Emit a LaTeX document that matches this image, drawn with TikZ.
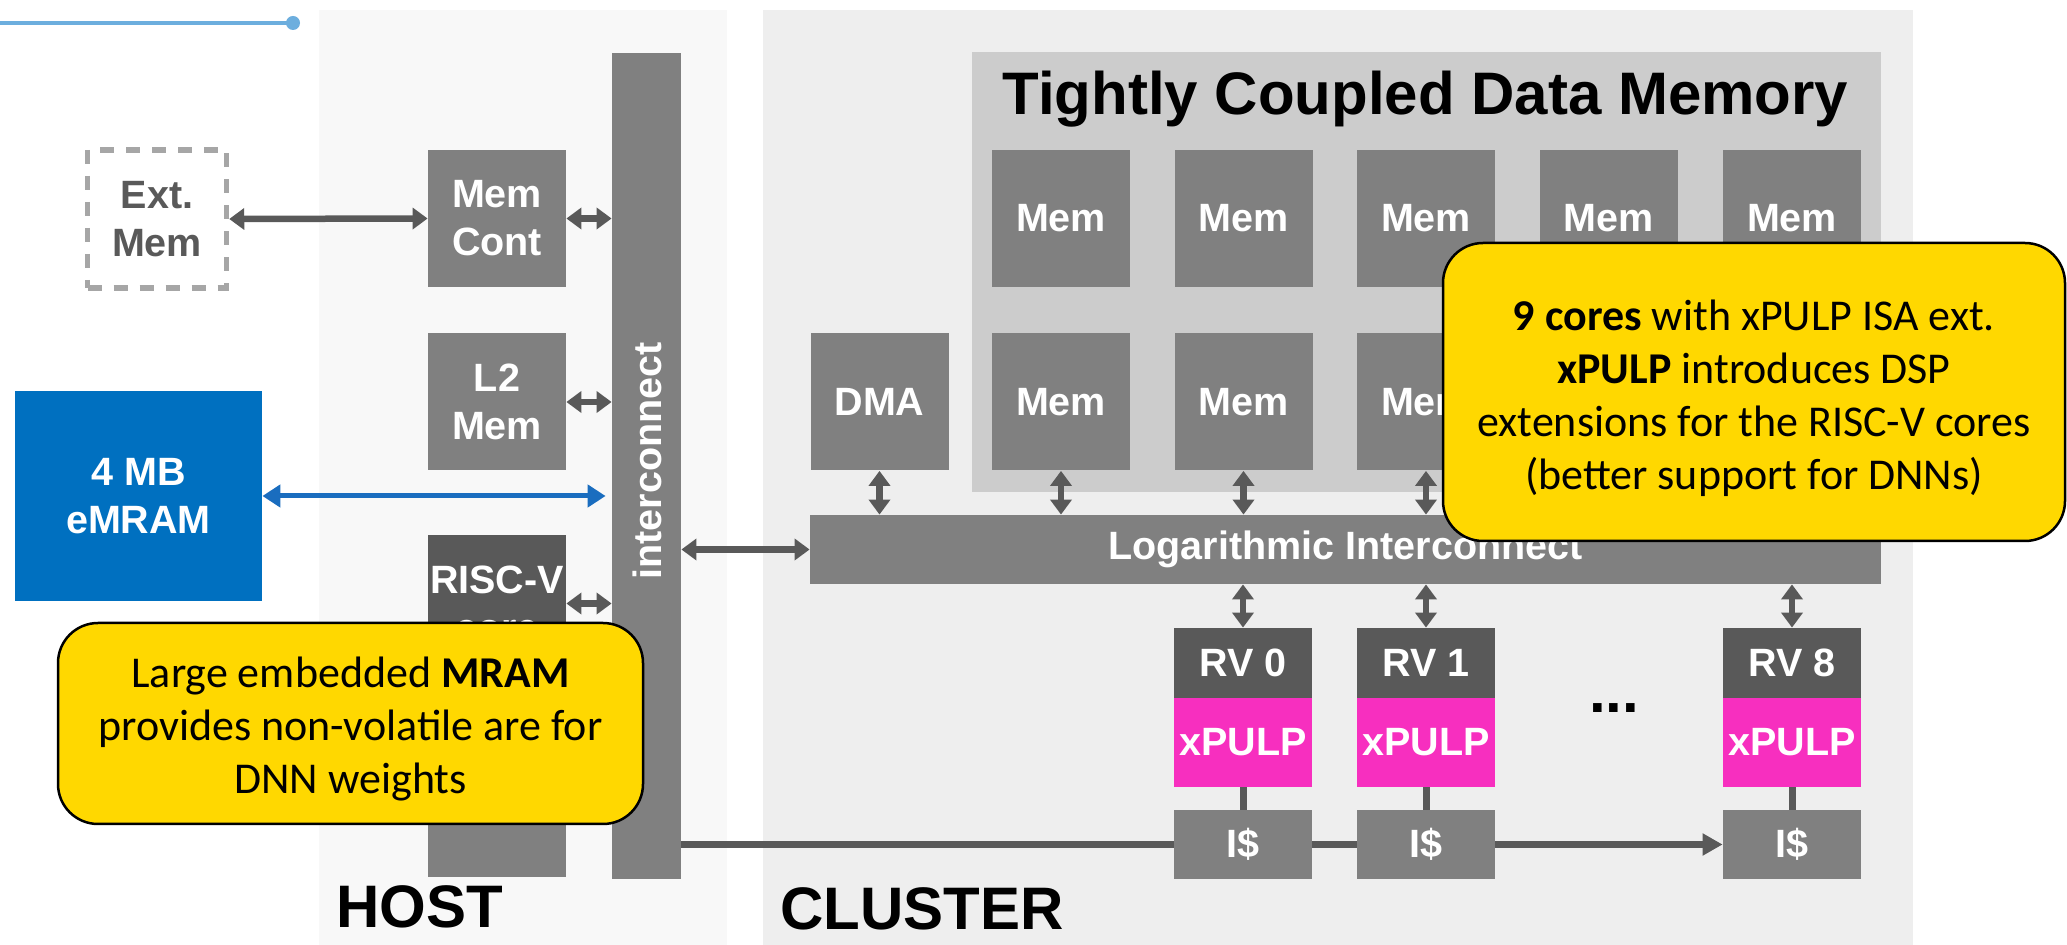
\documentclass[tikz,border=0pt]{standalone}
\usepackage{fontspec}
\setmainfont{Liberation Sans}
\newfontfamily\callfamily{Carlito}
\usetikzlibrary{arrows.meta}
\definecolor{boxgray}{HTML}{808080}
\definecolor{darkgray}{HTML}{595959}
\definecolor{pulp}{HTML}{F72FBF}
\definecolor{calloutyellow}{HTML}{FFD800}
\definecolor{mramblue}{HTML}{0070C0}
\definecolor{bluearrow}{HTML}{1A6DBF}
\definecolor{clusterbg}{HTML}{EEEEEE}
\definecolor{tcdmbg}{HTML}{CCCCCC}
\definecolor{hostbg}{HTML}{F8F8F8}
\definecolor{topline}{HTML}{6CAEDE}
\definecolor{dashgray}{HTML}{A6A6A6}
\newcommand\boxfnt{\fontsize{19.75pt}{24pt}\selectfont\bfseries}
\newcommand\callfnt{\callfamily\fontsize{22pt}{26.5pt}\selectfont}
\newcommand\headfnt{\fontsize{30pt}{36pt}\selectfont\bfseries}
\pgfdeclarelayer{back}
\pgfdeclarelayer{mid}
\pgfsetlayers{back,mid,main}
\begin{document}
\begin{tikzpicture}[x=0.5pt,y=-0.5pt,
  box/.style={fill=boxgray, text=white, font=\boxfnt, align=center, inner sep=0pt, minimum width=69pt, minimum height=68.5pt},
  darkbox/.style={box, fill=darkgray},
  hdr/.style={box, fill=darkgray, minimum height=35pt},
  pulpbox/.style={box, fill=pulp, minimum height=44.5pt},
  cache/.style={box, minimum height=34.5pt},
  link/.style={draw=darkgray, line width=3.25pt, {Triangle[width=10.5pt,length=7.5pt]}-{Triangle[width=10.5pt,length=7.5pt]}},
  bluelink/.style={draw=bluearrow, line width=2.5pt, {Triangle[width=11pt,length=9pt]}-{Triangle[width=11pt,length=9pt]}},
  plainlink/.style={draw=darkgray, line width=3.5pt},
  callout/.style={fill=calloutyellow, draw=black, line width=1.25pt, rounded corners=20pt, inner sep=0pt},
  callouttext/.style={font=\callfnt, align=center, inner sep=0pt, text=black},
  biglabel/.style={font=\headfnt, text=black, anchor=base, inner sep=0pt}]
\useasboundingbox (0,0) rectangle (2067,945);

% backgrounds
\begin{pgfonlayer}{back}
  \fill[white] (0,0) rectangle (2067,945);
  \fill[hostbg] (319,10) rectangle (727,945);
  \fill[clusterbg] (763,10) rectangle (1913,945);
  \fill[tcdmbg] (972,52) rectangle (1881,492);
  \coordinate (tl0) at (0,23);
  \coordinate (tl1) at (293,23);
  \draw[topline, line width=2pt] (tl0) -- (tl1);
  \fill[topline] (tl1) circle (7);
\end{pgfonlayer}

% title and section labels
\node[biglabel] (title) at (1425.5,115) {Tightly Coupled Data Memory};
\node[biglabel] (host) at (419.5,928) {HOST};
\node[biglabel] (cluster) at (922,929) {CLUSTER};

% host side
\node[draw=dashgray, dashed, dash pattern=on 7pt off 6pt, line width=2.75pt, text=darkgray, font=\boxfnt, align=center, inner sep=0pt, minimum width=69.5pt, minimum height=69pt] (ext) at (157,219) {Ext.\\Mem};
\node[box] (memcont) at (497,218.5) {Mem\\Cont};
\node[box] (l2) at (497,402) {L2\\Mem};
\node[darkbox] (riscv) at (497,603.5) {RISC-V\\core};
\node[box, minimum height=94.5pt] (hostlow) at (497,782.5) {};
\node[box, fill=mramblue, minimum width=123.5pt, minimum height=105pt] (emram) at (138.5,496) {4 MB\\eMRAM};
\node[box, minimum width=34.5pt, minimum height=413pt] (ic) at (646.5,466) {};
\node[rotate=90, text=white, font=\boxfnt, inner sep=0pt] (iclabel) at (647,461) {interconnect};

% cluster side
\node[box] (dma) at (879.5,402) {DMA};
\foreach \i/\x in {1/1061,2/1243.5,3/1426,4/1608.5,5/1792}{
  \node[box] (mA\i) at (\x,218.5) {Mem};
  \node[box] (mB\i) at (\x,402) {Mem};
}
\node[box, minimum width=535.5pt, minimum height=34.5pt] (logbar) at (1345.5,549.5) {Logarithmic Interconnect};

\foreach \n/\x/\l in {0/1243/0,1/1426/1,8/1792/8}{
  \node[hdr] (h\n) at (\x,663) {RV \l};
  \node[pulpbox] (p\n) at (\x,742.5) {xPULP};
  \node[cache] (c\n) at (\x,844.5) {I\$};
  \draw[plainlink] (p\n.south) -- (c\n.north);
  \draw[link] (h\n.north |- logbar.south) -- (h\n.north);
}
\node[biglabel] (dots) at (1614,713) {...};

% connectors
\draw[link] (ext.east) -- (memcont.west);
\draw[link] (memcont.east) -- (memcont.east -| ic.west);
\draw[link] (l2.east) -- (l2.east -| ic.west);
\draw[link] (riscv.east) -- (riscv.east -| ic.west);
\draw[bluelink, shorten >=3pt] (emram.east) -- (emram.east -| ic.west);
\draw[link] (logbar.west -| ic.east) -- (logbar.west);
\draw[link] (dma.south) -- (dma.south |- logbar.north);
\foreach \i in {1,...,5}{
  \draw[link] (mB\i.south) -- (mB\i.south |- logbar.north);
}
\begin{pgfonlayer}{mid}
  \draw[draw=darkgray, line width=3.5pt, -{Triangle[width=10.5pt,length=10pt]}] (c0.west -| ic.east) -- (c8.west);
\end{pgfonlayer}

% callouts
\node[callout, minimum width=292.5pt, minimum height=100.5pt] (callL) at (350.5,723.5) {};
\node[callouttext] (callLtext) at (350.5,729)
  {Large embedded \textbf{MRAM}\\provides non-volatile are for\\DNN weights};
\node[callout, minimum width=311pt, minimum height=149pt] (callR) at (1754,392) {};
\node[callouttext] (callRtext) at (1754,398)
  {\textbf{9 cores} with xPULP ISA ext.\\\textbf{xPULP} introduces DSP\\extensions for the RISC-V cores\\(better support for DNNs)};
\end{tikzpicture}
\end{document}
